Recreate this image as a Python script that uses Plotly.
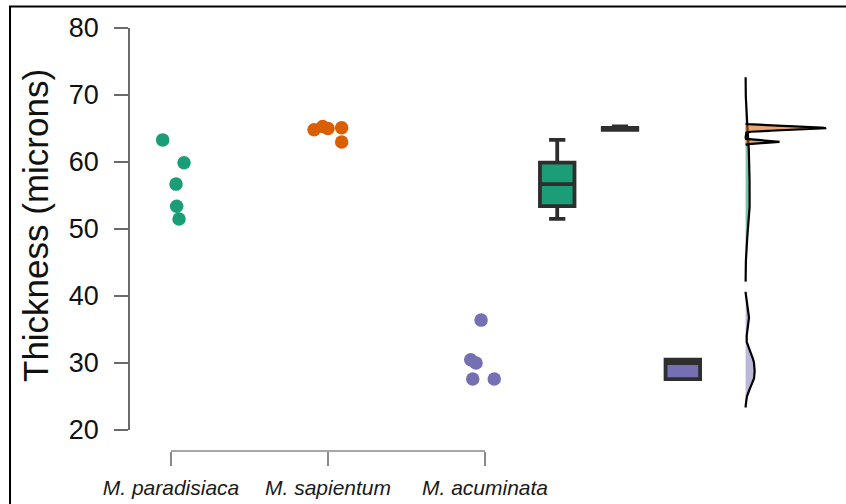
import numpy as np
import plotly.graph_objects as go

# ---- data -----------------------------------------------------------------
species = ["M. paradisiaca", "M. sapientum", "M. acuminata"]
paradisiaca = [63.3, 59.9, 56.7, 53.4, 51.5]
sapientum = [64.8, 65.3, 65.0, 65.1, 63.0]
acuminata = [36.4, 30.5, 30.0, 27.6, 27.6]
y_ticks = [20, 30, 40, 50, 60, 70, 80]

# horizontal jitter of the raw points around their category (x units)
jitter = [
    [-0.053, 0.083, 0.032, 0.036, 0.051],
    [-0.089, -0.034, 0.0, 0.087, 0.087],
    [-0.025, -0.091, -0.057, -0.078, 0.059],
]

# ---- styling --------------------------------------------------------------
colors = ["#1b9e77", "#d95f02", "#7570b3"]
dens_fill = ["rgba(27,158,119,0.6)", "rgba(217,95,2,0.55)", "rgba(117,112,179,0.5)"]
box_pos = [3.46, 3.86, 4.26]
dens_base = 4.66
dens_scale = 0.395          # x units per unit of density
FONT = "Liberation Sans"
AXIS_GREY = "#8a8a8a"

W, H = 846, 504
ML, MR, MT, MB = 130, 6, 28, 53
PW, PH = W - ML - MR, H - MT - MB
X_PX_PER_UNIT = 157.0
x_lo = 1 - (171 - ML) / X_PX_PER_UNIT
x_hi = x_lo + PW / X_PX_PER_UNIT


def px_x(p):
    return (p - ML) / PW


def px_y(p):
    return (H - MB - p) / PH


def bw_nrd0(v):
    v = np.asarray(v, float)
    q1, q3 = np.percentile(v, [25, 75])
    lo = min(v.std(ddof=1), (q3 - q1) / 1.34)
    return 0.9 * lo * len(v) ** -0.2


def kde(v, n=512):
    v = np.asarray(v, float)
    bw = bw_nrd0(v)
    grid = np.linspace(v.min() - 3 * bw, v.max() + 3 * bw, n)
    d = np.exp(-0.5 * ((grid[:, None] - v[None, :]) / bw) ** 2).sum(1)
    return grid, d / (len(v) * bw * np.sqrt(2 * np.pi))


groups = [paradisiaca, sapientum, acuminata]
cat_pos = list(range(1, len(species) + 1))
fig = go.Figure()

# raw points
for i, vals in enumerate(groups):
    fig.add_trace(go.Scatter(
        x=[cat_pos[i] + j for j in jitter[i]], y=vals, mode="markers",
        marker=dict(color=colors[i], size=13.5, line=dict(width=0)),
        hoverinfo="skip", showlegend=False))

# box plots
for i, vals in enumerate(groups):
    fig.add_trace(go.Box(
        y=vals, x0=box_pos[i], width=0.22, fillcolor=colors[i],
        quartilemethod="inclusive",
        line=dict(color="#2e2e2e", width=3.8), whiskerwidth=0.47,
        boxpoints="outliers", marker=dict(opacity=0, size=1),
        hoverinfo="skip", showlegend=False))

# half densities sharing one baseline
for i, vals in enumerate(groups):
    g, d = kde(vals)
    xs = np.concatenate([[dens_base], dens_base + d * dens_scale, [dens_base]])
    ys = np.concatenate([[g[0]], g, [g[-1]]])
    fig.add_trace(go.Scatter(
        x=xs, y=ys, mode="lines", fill="toself", fillcolor=dens_fill[i],
        line=dict(color="black", width=2.2), hoverinfo="skip", showlegend=False))

fig.update_layout(
    width=W, height=H, margin=dict(l=ML, r=MR, t=MT, b=MB),
    plot_bgcolor="rgba(0,0,0,0)", paper_bgcolor="white",
    showlegend=False, boxmode="overlay",
    xaxis=dict(
        range=[x_lo, x_hi], domain=[0, 1], anchor="free", position=0,
        tickvals=cat_pos, ticktext=species, ticks="outside", ticklen=14,
        tickwidth=1.5, tickcolor=AXIS_GREY, showline=False, showgrid=False,
        zeroline=False, ticklabelstandoff=4, fixedrange=True,
        tickfont=dict(family=FONT, size=21, color="#1a1a1a", style="italic")),
    yaxis=dict(
        range=[20, 80], domain=[px_y(430), 1], tickvals=y_ticks,
        ticks="outside", ticklen=14, tickwidth=1.5, tickcolor="#6a6a6a",
        showline=True, linecolor="#6a6a6a", linewidth=1.5, showgrid=False,
        zeroline=False, ticklabelstandoff=10,
        tickfont=dict(family=FONT, size=27, color="#111111")),
    annotations=[dict(
        text="Thickness (microns)", textangle=-90, showarrow=False,
        xref="paper", yref="paper", x=px_x(35), y=px_y(226),
        xanchor="center", yanchor="middle",
        font=dict(family=FONT, size=35, color="#111111"))],
    shapes=[
        # category axis line spanning only the first to the last category
        dict(type="line", xref="x", yref="paper", x0=cat_pos[0], x1=cat_pos[-1],
             y0=0, y1=0, line=dict(color=AXIS_GREY, width=1.5)),
        dict(type="rect", xref="paper", yref="paper",
             x0=px_x(10), x1=px_x(860), y0=px_y(520), y1=px_y(6.5),
             line=dict(color="black", width=2), layer="above"),
    ],
)

fig.write_html("out.html")
